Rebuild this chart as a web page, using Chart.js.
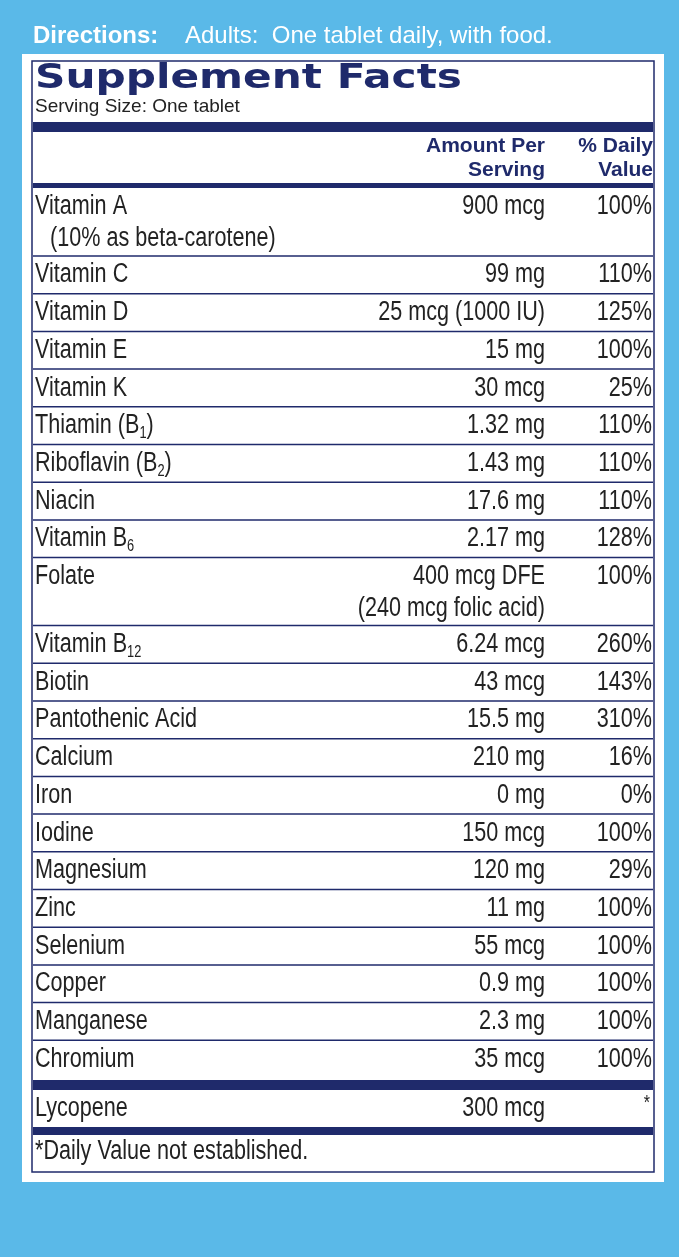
<!DOCTYPE html>
<html>
<head>
<meta charset="utf-8">
<script src="https://cdn.jsdelivr.net/npm/chart.js@4/dist/chart.umd.min.js"></script>
<style>
  body { margin: 0; background: #5ab9e8; }
  canvas { display: block; }
</style>
</head>
<body>
<canvas id="facts" width="679" height="1257"></canvas>
<script>
// Nutrient rows ("_" marks a subscript)
var nutrients = ['Vitamin A', 'Vitamin C', 'Vitamin D', 'Vitamin E', 'Vitamin K', 'Thiamin (B_1)', 'Riboflavin (B_2)',
    'Niacin', 'Vitamin B_6', 'Folate', 'Vitamin B_12', 'Biotin', 'Pantothenic Acid', 'Calcium', 'Iron', 'Iodine',
    'Magnesium', 'Zinc', 'Selenium', 'Copper', 'Manganese', 'Chromium'];
var amounts = ['900 mcg', '99 mg', '25 mcg (1000 IU)', '15 mg', '30 mcg', '1.32 mg', '1.43 mg', '17.6 mg', '2.17 mg',
    '400 mcg DFE', '6.24 mcg', '43 mcg', '15.5 mg', '210 mg', '0 mg', '150 mcg', '120 mg', '11 mg', '55 mcg',
    '0.9 mg', '2.3 mg', '35 mcg'];
var dailyValues = ['100%', '110%', '125%', '100%', '25%', '110%', '110%', '110%', '128%', '100%', '260%', '143%',
    '310%', '16%', '0%', '100%', '29%', '100%', '100%', '100%', '100%', '100%'];
var nameNotes = { 0: '(10% as beta-carotene)' };
var amountNotes = { 9: '(240 mcg folic acid)' };

var otherNames = ['Lycopene'];
var otherAmounts = ['300 mcg'];
var otherDV = ['*'];

var NAVY = '#1f2a6b';
var INK = '#222';
var BODY = "27px 'Liberation Sans', Arial, sans-serif";
var SUB = "16px 'Liberation Sans', Arial, sans-serif";
var SQUEEZE = 0.8;

// condensed text: squeeze a regular face horizontally
function narrow(ctx, s, x, y, align, font) {
    ctx.save();
    ctx.font = font || BODY;
    ctx.translate(x, y);
    ctx.scale(SQUEEZE, 1);
    ctx.textAlign = align || 'left';
    ctx.fillText(s, 0, 0);
    ctx.restore();
}
function narrowWidth(ctx, s, font) {
    ctx.font = font || BODY;
    return ctx.measureText(s).width * SQUEEZE;
}

function drawSub(ctx, text, x, y) {
    var parts = text.split('_');
    narrow(ctx, parts[0], x, y);
    if (parts.length < 2) return;
    var m = parts[1].match(/^(\d+)(.*)$/);
    var w0 = narrowWidth(ctx, parts[0]);
    narrow(ctx, m[1], x + w0, y + 8, 'left', SUB);
    narrow(ctx, m[2], x + w0 + narrowWidth(ctx, m[1], SUB), y);
}

var labelPlugin = {
    id: 'label',
    afterDraw: function (chart) {
        var ctx = chart.ctx;
        var sx = chart.scales.x, sy = chart.scales.y;
        var X = function (v) { return sx.getPixelForValue(v); };
        var Y = function (v) { return sy.getPixelForValue(v); };
        ctx.save();
        ctx.textBaseline = 'middle';

        function bar(y0, y1) {
            ctx.fillStyle = NAVY;
            ctx.fillRect(X(33), Y(y0), X(653) - X(33), Y(y1) - Y(y0));
        }

        // directions
        ctx.fillStyle = '#fff';
        ctx.font = "bold 24px 'Liberation Sans', Arial, sans-serif";
        ctx.fillText('Directions:', X(33), Y(36));
        ctx.font = "24px 'Liberation Sans', Arial, sans-serif";
        ctx.fillText('Adults:  One tablet daily, with food.', X(185), Y(36));

        // panel
        ctx.fillStyle = '#fff';
        ctx.fillRect(X(22), Y(54), X(664) - X(22), Y(1182) - Y(54));
        ctx.strokeStyle = NAVY;
        ctx.lineWidth = 1.5;
        ctx.strokeRect(X(32), Y(61), X(654) - X(32), Y(1172) - Y(61));

        // title
        ctx.fillStyle = NAVY;
        ctx.font = "900 34px 'DejaVu Sans', sans-serif";
        var tw = ctx.measureText('Supplement Facts').width;
        ctx.save();
        ctx.translate(X(35), Y(79));
        ctx.scale(427 / tw, 1);
        ctx.fillText('Supplement Facts', 0, 0);
        ctx.restore();
        ctx.fillStyle = INK;
        ctx.font = "19px 'Liberation Sans', Arial, sans-serif";
        ctx.fillText('Serving Size: One tablet', X(35), Y(107));
        bar(122, 132);

        // header
        ctx.fillStyle = NAVY;
        ctx.font = "bold 21px 'Liberation Sans', Arial, sans-serif";
        ctx.textAlign = 'right';
        ctx.fillText('Amount Per', X(545), Y(146));
        ctx.fillText('Serving', X(545), Y(170));
        ctx.fillText('% Daily', X(653), Y(146));
        ctx.fillText('Value', X(653), Y(170));
        ctx.textAlign = 'left';
        bar(183, 188);

        // nutrient rows
        var top = 188;
        ctx.fillStyle = INK;
        for (var i = 0; i < nutrients.length; i++) {
            var tall = nameNotes[i] || amountNotes[i];
            var h = tall ? 68 : 37.7;
            var ty = Y(top + 19);
            ctx.fillStyle = INK;
            drawSub(ctx, nutrients[i], X(35), ty);
            narrow(ctx, amounts[i], X(545), ty, 'right');
            narrow(ctx, dailyValues[i], X(652), ty, 'right');
            if (nameNotes[i]) narrow(ctx, nameNotes[i], X(50), Y(top + 51), 'left');
            if (amountNotes[i]) narrow(ctx, amountNotes[i], X(545), Y(top + 51), 'right');
            top += h;
            if (i < nutrients.length - 1) {
                ctx.strokeStyle = NAVY;
                ctx.lineWidth = 1.5;
                ctx.beginPath();
                ctx.moveTo(X(33), Y(top));
                ctx.lineTo(X(653), Y(top));
                ctx.stroke();
            }
        }
        bar(1080, 1090);
        for (var j = 0; j < otherNames.length; j++) {
            var oy = Y(1090 + 19 + j * 37.7);
            ctx.fillStyle = INK;
            narrow(ctx, otherNames[j], X(35), oy, 'left');
            narrow(ctx, otherAmounts[j], X(545), oy, 'right');
            narrow(ctx, otherDV[j], X(650), oy - 6, 'right', "20px 'Liberation Sans', sans-serif");
        }
        bar(1127, 1135);
        ctx.fillStyle = INK;
        narrow(ctx, '*Daily Value not established.', X(35), Y(1152), 'left');
        ctx.restore();
    }
};

new Chart(document.getElementById('facts').getContext('2d'), {
    type: 'scatter',
    data: { datasets: [{ data: [], pointRadius: 0 }] },
    options: {
        responsive: false,
        animation: false,
        layout: { padding: 0 },
        plugins: { legend: { display: false }, tooltip: { enabled: false } },
        scales: {
            x: { type: 'linear', min: 0, max: 679, display: false },
            y: { type: 'linear', min: 0, max: 1257, reverse: true, display: false }
        }
    },
    plugins: [labelPlugin]
});
</script>
</body>
</html>
